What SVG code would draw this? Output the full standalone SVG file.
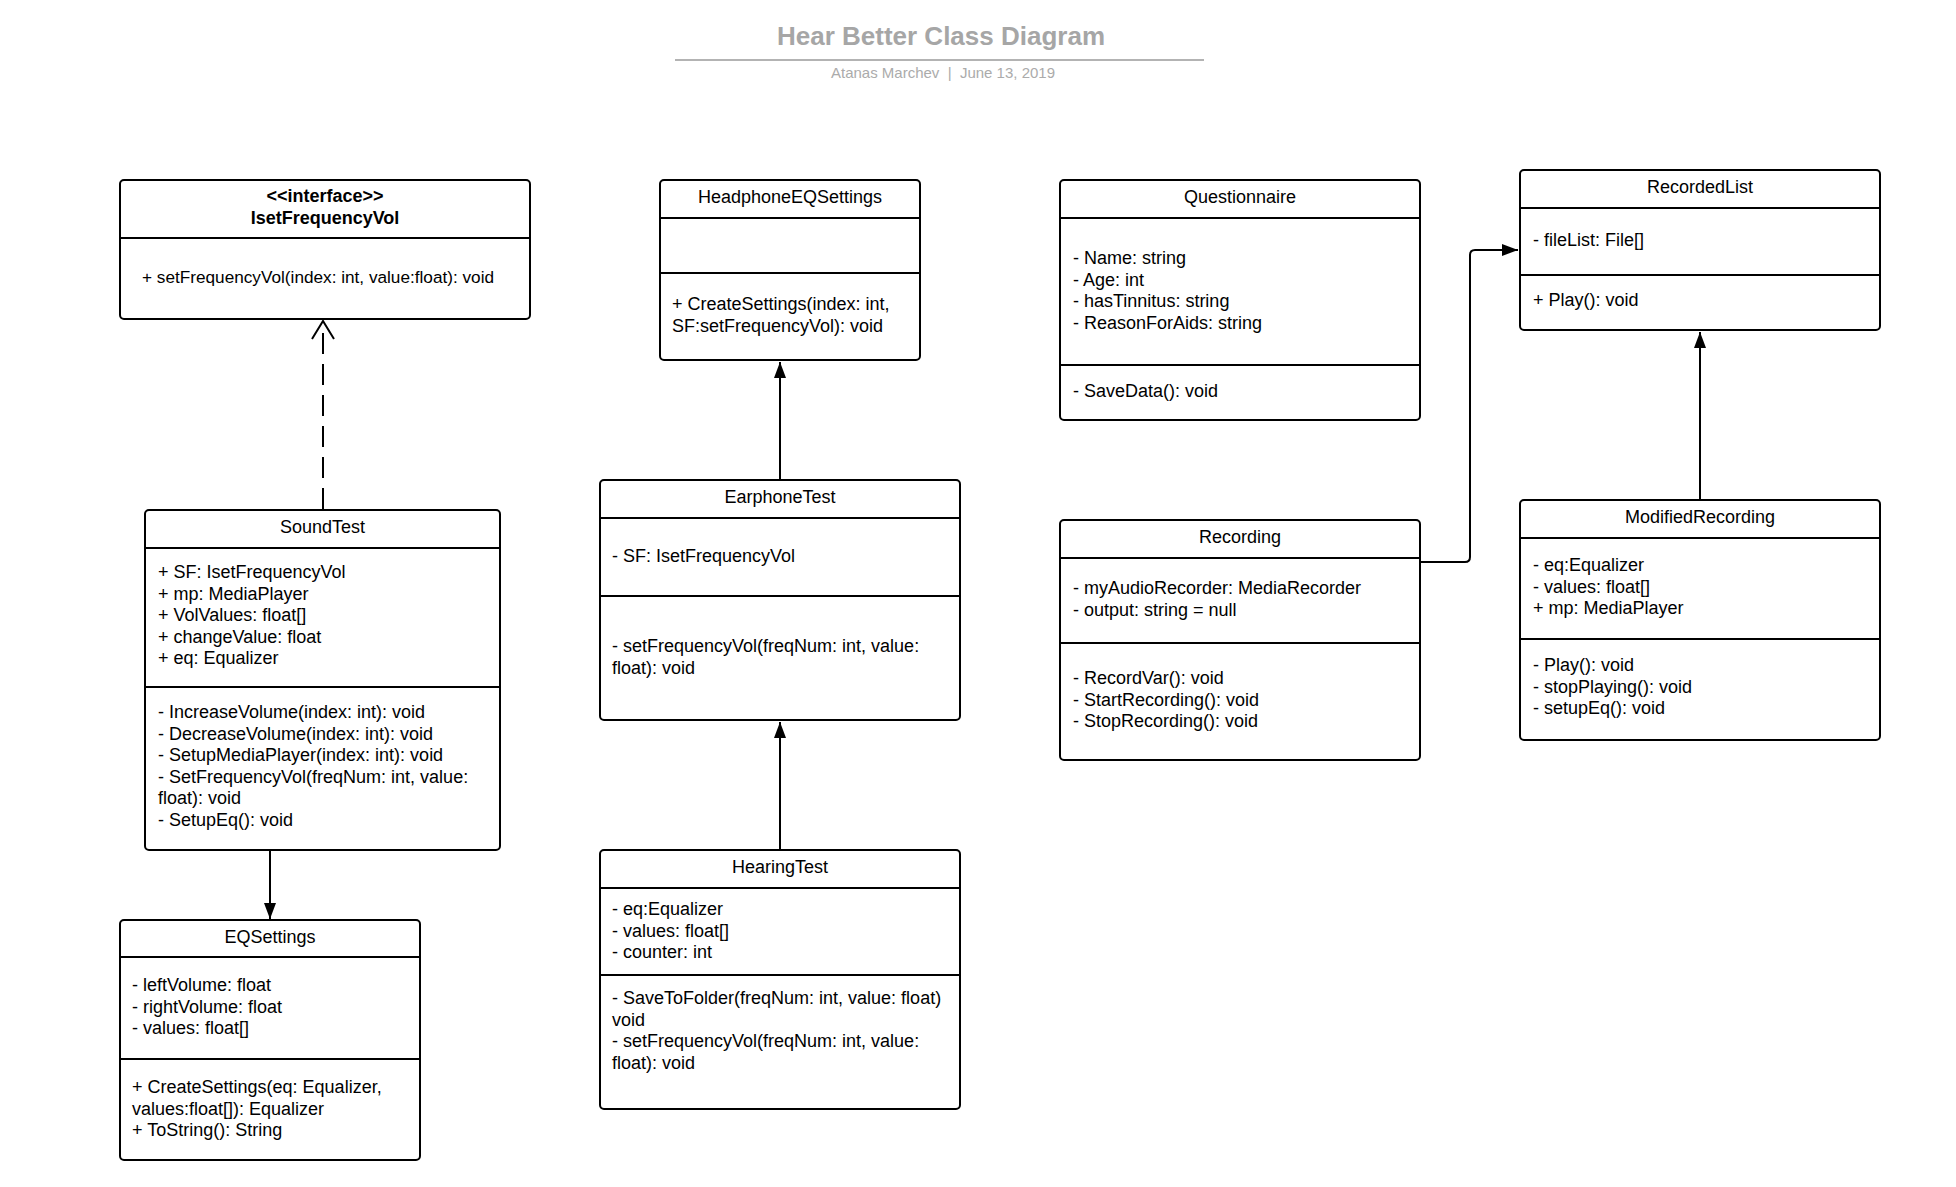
<svg xmlns="http://www.w3.org/2000/svg" width="1956" height="1187" viewBox="0 0 1956 1187">
<style>
.box{fill:#ffffff;stroke:#000000;stroke-width:2}
.div{stroke:#000000;stroke-width:2}
.t{font-family:"Liberation Sans",Arial,sans-serif;font-size:18px;fill:#000000}
.c{text-anchor:middle}
.b{font-weight:bold}
.conn{fill:none;stroke:#000000;stroke-width:2}
.title{font-family:"Liberation Sans",Arial,sans-serif;font-size:26px;font-weight:bold;fill:#a6a6a6;text-anchor:middle}
.sub{font-family:"Liberation Sans",Arial,sans-serif;font-size:15px;fill:#ababab;text-anchor:middle;white-space:pre}
</style>
<defs>
<marker id="filled" viewBox="0 0 16 12" refX="16" refY="6" markerWidth="16" markerHeight="12" markerUnits="userSpaceOnUse" orient="auto">
<path d="M0,0 L16,6 L0,12 Z" fill="#000000"/>
</marker>
<marker id="open" viewBox="0 0 20 24" refX="19" refY="12" markerWidth="20" markerHeight="24" markerUnits="userSpaceOnUse" orient="auto">
<path d="M1,1 L19,12 L1,23" fill="none" stroke="#000000" stroke-width="2"/>
</marker>
</defs>
<rect width="1956" height="1187" fill="#ffffff"/>

<g id="header">
<text class="title" x="941" y="45">Hear Better Class Diagram</text>
<line x1="675" y1="60" x2="1204" y2="60" stroke="#b3b3b3" stroke-width="2"/>
<text class="sub" x="943" y="78" xml:space="preserve">Atanas Marchev  |  June 13, 2019</text>
</g>

<g id="connectors">
<line class="conn" x1="323" y1="509" x2="323" y2="321" stroke-dasharray="21,10" marker-end="url(#open)"/>
<line class="conn" x1="270" y1="851" x2="270" y2="919" marker-end="url(#filled)"/>
<line class="conn" x1="780" y1="480" x2="780" y2="362" marker-end="url(#filled)"/>
<line class="conn" x1="780" y1="850" x2="780" y2="722" marker-end="url(#filled)"/>
<path class="conn" d="M1420,562 H1465 Q1470,562 1470,557 V255 Q1470,250 1475,250 H1518" marker-end="url(#filled)"/>
<line class="conn" x1="1700" y1="500" x2="1700" y2="332" marker-end="url(#filled)"/>
</g>

<g id="IsetFrequencyVol">
<rect class="box" x="120" y="180" width="410" height="139" rx="4"/>
<line class="div" x1="120" y1="238" x2="530" y2="238"/>
<text class="t c b" x="325" y="202">&lt;&lt;interface&gt;&gt;</text>
<text class="t c b" x="325" y="224">IsetFrequencyVol</text>
<text class="t" x="142" y="283" style="font-size:17.2px">+ setFrequencyVol(index: int, value:float): void</text>
</g>

<g id="SoundTest">
<rect class="box" x="145" y="510" width="355" height="340" rx="4"/>
<line class="div" x1="145" y1="548" x2="500" y2="548"/>
<line class="div" x1="145" y1="687" x2="500" y2="687"/>
<text class="t c" x="322.5" y="533">SoundTest</text>
<text class="t" x="158" y="578">+ SF: IsetFrequencyVol</text>
<text class="t" x="158" y="599.5">+ mp: MediaPlayer</text>
<text class="t" x="158" y="621">+ VolValues: float[]</text>
<text class="t" x="158" y="642.5">+ changeValue: float</text>
<text class="t" x="158" y="664">+ eq: Equalizer</text>
<text class="t" x="158" y="718">- IncreaseVolume(index: int): void</text>
<text class="t" x="158" y="739.5">- DecreaseVolume(index: int): void</text>
<text class="t" x="158" y="761">- SetupMediaPlayer(index: int): void</text>
<text class="t" x="158" y="782.5">- SetFrequencyVol(freqNum: int, value:</text>
<text class="t" x="158" y="804">float): void</text>
<text class="t" x="158" y="825.5">- SetupEq(): void</text>
</g>

<g id="EQSettings">
<rect class="box" x="120" y="920" width="300" height="240" rx="4"/>
<line class="div" x1="120" y1="957" x2="420" y2="957"/>
<line class="div" x1="120" y1="1059" x2="420" y2="1059"/>
<text class="t c" x="270" y="943">EQSettings</text>
<text class="t" x="132" y="991">- leftVolume: float</text>
<text class="t" x="132" y="1012.5">- rightVolume: float</text>
<text class="t" x="132" y="1034">- values: float[]</text>
<text class="t" x="132" y="1093">+ CreateSettings(eq: Equalizer,</text>
<text class="t" x="132" y="1114.5">values:float[]): Equalizer</text>
<text class="t" x="132" y="1136">+ ToString(): String</text>
</g>

<g id="HeadphoneEQSettings">
<rect class="box" x="660" y="180" width="260" height="180" rx="4"/>
<line class="div" x1="660" y1="218" x2="920" y2="218"/>
<line class="div" x1="660" y1="273" x2="920" y2="273"/>
<text class="t c" x="790" y="203">HeadphoneEQSettings</text>
<text class="t" x="672" y="310">+ CreateSettings(index: int,</text>
<text class="t" x="672" y="331.5">SF:setFrequencyVol): void</text>
</g>

<g id="EarphoneTest">
<rect class="box" x="600" y="480" width="360" height="240" rx="4"/>
<line class="div" x1="600" y1="518" x2="960" y2="518"/>
<line class="div" x1="600" y1="596" x2="960" y2="596"/>
<text class="t c" x="780" y="503">EarphoneTest</text>
<text class="t" x="612" y="562">- SF: IsetFrequencyVol</text>
<text class="t" x="612" y="652">- setFrequencyVol(freqNum: int, value:</text>
<text class="t" x="612" y="673.5">float): void</text>
</g>

<g id="HearingTest">
<rect class="box" x="600" y="850" width="360" height="259" rx="4"/>
<line class="div" x1="600" y1="888" x2="960" y2="888"/>
<line class="div" x1="600" y1="975" x2="960" y2="975"/>
<text class="t c" x="780" y="873">HearingTest</text>
<text class="t" x="612" y="915">- eq:Equalizer</text>
<text class="t" x="612" y="936.5">- values: float[]</text>
<text class="t" x="612" y="958">- counter: int</text>
<text class="t" x="612" y="1004">- SaveToFolder(freqNum: int, value: float)</text>
<text class="t" x="612" y="1025.5">void</text>
<text class="t" x="612" y="1047">- setFrequencyVol(freqNum: int, value:</text>
<text class="t" x="612" y="1068.5">float): void</text>
</g>

<g id="Questionnaire">
<rect class="box" x="1060" y="180" width="360" height="240" rx="4"/>
<line class="div" x1="1060" y1="218" x2="1420" y2="218"/>
<line class="div" x1="1060" y1="365" x2="1420" y2="365"/>
<text class="t c" x="1240" y="203">Questionnaire</text>
<text class="t" x="1073" y="264">- Name: string</text>
<text class="t" x="1073" y="285.5">- Age: int</text>
<text class="t" x="1073" y="307">- hasTinnitus: string</text>
<text class="t" x="1073" y="328.5">- ReasonForAids: string</text>
<text class="t" x="1073" y="397">- SaveData(): void</text>
</g>

<g id="Recording">
<rect class="box" x="1060" y="520" width="360" height="240" rx="4"/>
<line class="div" x1="1060" y1="558" x2="1420" y2="558"/>
<line class="div" x1="1060" y1="643" x2="1420" y2="643"/>
<text class="t c" x="1240" y="543">Recording</text>
<text class="t" x="1073" y="594">- myAudioRecorder: MediaRecorder</text>
<text class="t" x="1073" y="615.5">- output: string = null</text>
<text class="t" x="1073" y="684">- RecordVar(): void</text>
<text class="t" x="1073" y="705.5">- StartRecording(): void</text>
<text class="t" x="1073" y="727">- StopRecording(): void</text>
</g>

<g id="RecordedList">
<rect class="box" x="1520" y="170" width="360" height="160" rx="4"/>
<line class="div" x1="1520" y1="208" x2="1880" y2="208"/>
<line class="div" x1="1520" y1="275" x2="1880" y2="275"/>
<text class="t c" x="1700" y="193">RecordedList</text>
<text class="t" x="1533" y="246">- fileList: File[]</text>
<text class="t" x="1533" y="306">+ Play(): void</text>
</g>

<g id="ModifiedRecording">
<rect class="box" x="1520" y="500" width="360" height="240" rx="4"/>
<line class="div" x1="1520" y1="538" x2="1880" y2="538"/>
<line class="div" x1="1520" y1="639" x2="1880" y2="639"/>
<text class="t c" x="1700" y="523">ModifiedRecording</text>
<text class="t" x="1533" y="571">- eq:Equalizer</text>
<text class="t" x="1533" y="592.5">- values: float[]</text>
<text class="t" x="1533" y="614">+ mp: MediaPlayer</text>
<text class="t" x="1533" y="671">- Play(): void</text>
<text class="t" x="1533" y="692.5">- stopPlaying(): void</text>
<text class="t" x="1533" y="714">- setupEq(): void</text>
</g>
</svg>
